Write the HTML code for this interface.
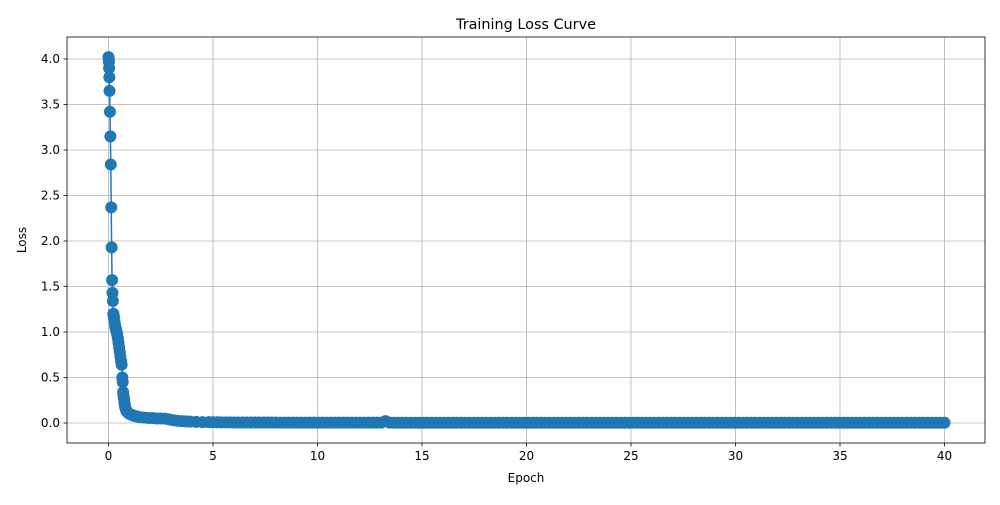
<!DOCTYPE html>
<html><head><meta charset="utf-8"><style>
body{margin:0;background:#fff;font-family:"Liberation Sans",sans-serif}
svg text{font-family:"DejaVu Sans","Liberation Sans",sans-serif;fill:#000}
</style></head><body>
<svg id="c" width="1000" height="500"></svg>
<script>
const xTicks=[0,5,10,15,20,25,30,35,40];
const yTicks=[0.0,0.5,1.0,1.5,2.0,2.5,3.0,3.5,4.0];
const earlyEpochs=[0,0.01,0.02,0.03,0.04,0.05,0.07,0.09,0.11,0.13,0.15,0.17,0.19,0.21,0.23,0.25,0.27,0.29,0.31,0.33,0.36,0.39,0.42,0.45,0.48,0.51,0.54,0.57,0.6,0.63,0.66,0.68,0.7,0.72,0.74,0.76,0.78,0.8,0.83,0.86,0.9,0.95,1.0,1.1,1.2,1.3,1.4,1.5,1.7,1.9,2.1,2.3,2.5,2.7,2.9,3.1,3.3,3.5,3.7,3.9,4.2,4.5,4.8];
const earlyLoss=[4.02,4.0,3.97,3.9,3.8,3.65,3.42,3.15,2.84,2.37,1.93,1.57,1.43,1.34,1.2,1.18,1.15,1.12,1.08,1.05,1.03,1.0,0.97,0.93,0.88,0.83,0.78,0.73,0.68,0.64,0.5,0.45,0.34,0.3,0.27,0.23,0.2,0.17,0.15,0.13,0.12,0.11,0.1,0.09,0.08,0.075,0.07,0.065,0.06,0.055,0.055,0.05,0.05,0.048,0.04,0.03,0.025,0.02,0.018,0.015,0.012,0.01,0.01];
const tailStart=5, tailEnd=40;
const tailLoss=[0.008,0.008,0.007,0.007,0.007,0.006,0.006,0.006,0.006,0.005,0.005,0.005,0.005,0.005,0.005,0.005,0.004,0.004,0.004,0.004,0.004,0.004,0.004,0.004,0.004,0.004,0.004,0.004,0.004,0.004,0.004,0.004,0.004,0.004,0.004,0.004,0.004,0.004,0.004,0.004,0.004,0.02,0.004,0.003,0.003,0.003,0.003,0.003,0.003,0.003,0.003,0.003,0.003,0.003,0.003,0.003,0.003,0.003,0.003,0.003,0.003,0.003,0.003,0.003,0.003,0.003,0.003,0.003,0.003,0.003,0.003,0.003,0.003,0.003,0.003,0.003,0.003,0.003,0.003,0.003,0.003,0.003,0.003,0.003,0.003,0.003,0.003,0.003,0.003,0.003,0.003,0.003,0.003,0.003,0.003,0.003,0.003,0.003,0.003,0.003,0.003,0.003,0.003,0.003,0.003,0.003,0.003,0.003,0.003,0.003,0.003,0.003,0.003,0.003,0.003,0.003,0.003,0.003,0.003,0.003,0.003,0.003,0.003,0.003,0.003,0.003,0.003,0.003,0.003,0.003,0.003,0.003,0.003,0.003,0.003,0.003,0.003,0.003,0.003,0.003,0.003,0.003,0.003,0.003,0.003,0.003,0.003,0.003,0.003,0.003,0.003,0.003,0.003,0.003,0.003,0.003,0.003,0.003,0.003,0.003,0.003,0.003,0.003,0.003,0.003,0.003,0.003,0.003,0.003,0.003,0.003,0.003,0.003,0.003,0.003];
const tailStep=(tailEnd-tailStart)/(tailLoss.length-1);

const svg=document.getElementById('c'),NS='http://www.w3.org/2000/svg';
const L=67,R=985,T=37,B=443;
const X=v=>108.5+v*20.9, Y=v=>423-v*91;
function mk(t,a,p){const e=document.createElementNS(NS,t);for(const k in a)e.setAttribute(k,a[k]);(p||svg).appendChild(e);return e;}
const grid=mk('g',{});


xTicks.forEach(v=>{
 mk('line',{x1:X(v),x2:X(v),y1:T,y2:B,stroke:'#b0b0b0','stroke-width':0.8},grid);
 mk('line',{x1:X(v),x2:X(v),y1:B,y2:B+3.5,stroke:'#000','stroke-width':0.8});
 const t=mk('text',{x:X(v),y:B+17,'text-anchor':'middle','font-size':12});t.textContent=v;
 
 
});
yTicks.forEach(v=>{
 mk('line',{x1:L,x2:R,y1:Y(v),y2:Y(v),stroke:'#b0b0b0','stroke-width':0.8},grid);
 mk('line',{x1:L-3.5,x2:L,y1:Y(v),y2:Y(v),stroke:'#000','stroke-width':0.8});
 const t=mk('text',{x:L-7,y:Y(v)+4,'text-anchor':'end','font-size':12});t.textContent=v.toFixed(1);
 
 
});
const xs=earlyEpochs.slice(),ys=earlyLoss.slice();
tailLoss.forEach((v,i)=>{xs.push(tailStart+i*tailStep);ys.push(v);});
const pts=xs.map((x,i)=>X(x)+','+Y(ys[i])).join(' ');
const line=mk('polyline',{points:pts,fill:'none',stroke:'#1f77b4','stroke-width':1.5});


const mg=mk('g',{fill:'#1f77b4'});


xs.forEach((x,i)=>{const c=mk('circle',{cx:X(x),cy:Y(ys[i]),r:6},mg);
 
 });
const fr=mk('rect',{x:L,y:T,width:R-L,height:B-T,fill:'none',stroke:'#000','stroke-width':0.8});


let t=mk('text',{x:526,y:29,'text-anchor':'middle','font-size':14.4});t.textContent='Training Loss Curve';


t=mk('text',{x:526,y:482,'text-anchor':'middle','font-size':12});t.textContent='Epoch';


t=mk('text',{x:26,y:240,'text-anchor':'middle','font-size':12,transform:'rotate(-90 26 240)'});t.textContent='Loss';


</script>
</body></html>
